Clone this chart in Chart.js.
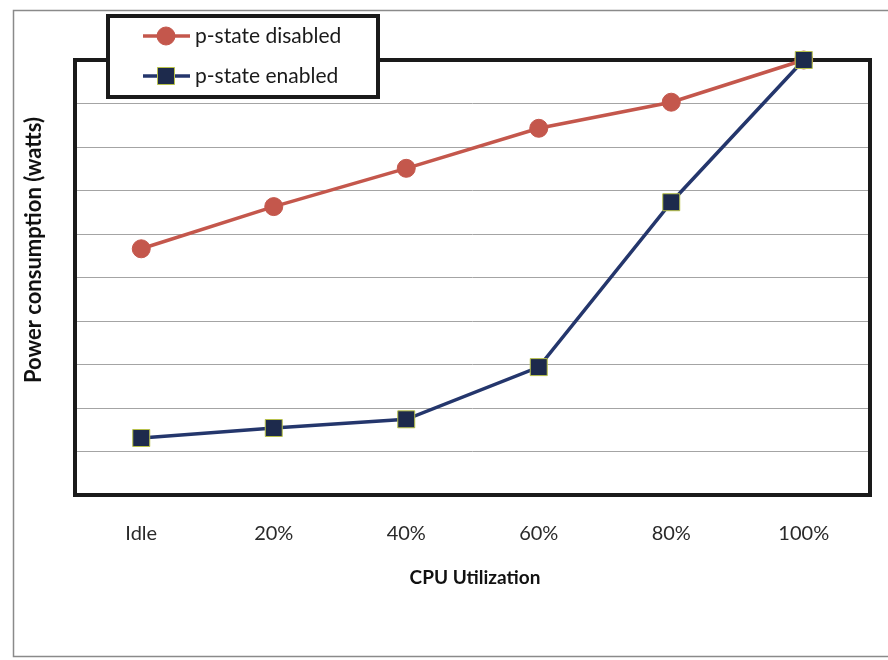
<!DOCTYPE html>
<html>
<head>
<meta charset="utf-8">
<title>Power consumption vs CPU utilization</title>
<script src="https://cdn.jsdelivr.net/npm/chart.js@4/dist/chart.umd.min.js"></script>
<style>
  html, body { margin: 0; padding: 0; background: #ffffff; }
  #wrap { width: 888px; height: 660px; }
</style>
</head>
<body>
<div id="wrap"><canvas id="c" width="888" height="660"></canvas></div>
<script>
// CPU utilization levels on the x axis
const categories = ['Idle', '20%', '40%', '60%', '80%', '100%'];
// Relative power draw (share of the peak, in percent of the axis span)
const pstateDisabled = [56.6, 66.3, 75.1, 84.3, 90.3, 100];
const pstateEnabled  = [13.1, 15.4, 17.4, 29.4, 67.3, 100];
const seriesNames = ['p-state disabled', 'p-state enabled'];
const xTitle = 'CPU Utilization';
const yTitle = 'Power consumption (watts)';

const FONT = 'Lato, "Open Sans", "Liberation Sans", sans-serif';
const RED = '#c4574c';
const BLUE_LINE = '#24366c';
const BLUE_FILL = '#1d2a4c';
const BLUE_EDGE = '#b9c24a';

// Thin outer frame plus the thick plot-area border
const framePlugin = {
  id: 'frames',
  beforeDraw(chart) {
    const ctx = chart.ctx;
    ctx.save();
    ctx.fillStyle = '#ffffff';
    ctx.fillRect(0, 0, chart.width, chart.height);
    ctx.strokeStyle = '#8a8a8a';
    ctx.lineWidth = 1.5;
    ctx.beginPath();
    ctx.moveTo(chart.width + 5, 10.5);
    ctx.lineTo(13.5, 10.5);
    ctx.lineTo(13.5, 656.5);
    ctx.lineTo(chart.width + 5, 656.5);
    ctx.stroke();
    ctx.restore();
  },
  beforeDatasetsDraw(chart) {
    const a = chart.chartArea;
    const ctx = chart.ctx;
    ctx.save();
    ctx.strokeStyle = '#1a1a1a';
    ctx.lineWidth = 4;
    ctx.strokeRect(a.left, a.top, a.right - a.left, a.bottom - a.top);
    ctx.restore();
  }
};

// Axis titles
const titlesPlugin = {
  id: 'axisTitles',
  afterDraw(chart) {
    const ctx = chart.ctx;
    ctx.save();
    ctx.fillStyle = '#111111';
    ctx.textAlign = 'center';
    ctx.textBaseline = 'middle';
    ctx.font = 'bold 19px ' + FONT;
    ctx.fillText(xTitle, 475, 578);
    ctx.translate(34, 250);
    ctx.rotate(-Math.PI / 2);
    ctx.font = 'bold 22px ' + FONT;
    ctx.fillText(yTitle, 0, 0);
    ctx.restore();
  }
};

// Boxed legend overlapping the top of the plot area
const legendPlugin = {
  id: 'boxLegend',
  afterDraw(chart) {
    const ctx = chart.ctx;
    const box = { x: 108, y: 16, w: 270, h: 81 };
    ctx.save();
    ctx.fillStyle = '#ffffff';
    ctx.fillRect(box.x, box.y, box.w, box.h);
    ctx.strokeStyle = '#1a1a1a';
    ctx.lineWidth = 4;
    ctx.strokeRect(box.x, box.y, box.w, box.h);
    const rows = [36, 76];
    chart.data.datasets.forEach((ds, i) => {
      const y = rows[i];
      ctx.strokeStyle = ds.borderColor;
      ctx.lineWidth = ds.borderWidth;
      ctx.beginPath();
      ctx.moveTo(143, y);
      ctx.lineTo(190, y);
      ctx.stroke();
      ctx.fillStyle = ds.pointBackgroundColor;
      ctx.strokeStyle = ds.pointBorderColor;
      ctx.lineWidth = ds.pointBorderWidth;
      ctx.beginPath();
      if (ds.pointStyle === 'rect') {
        const s = Math.SQRT1_2 * ds.pointRadius;
        ctx.rect(166 - s, y - s, 2 * s, 2 * s);
      } else {
        ctx.arc(166, y, ds.pointRadius, 0, Math.PI * 2);
      }
      ctx.fill();
      ctx.stroke();
      ctx.fillStyle = '#1a1a1a';
      ctx.font = '21px ' + FONT;
      ctx.textAlign = 'left';
      ctx.textBaseline = 'middle';
      ctx.fillText(ds.label, 195, y);
    });
    ctx.restore();
  }
};

new Chart(document.getElementById('c'), {
  type: 'line',
  data: {
    labels: categories,
    datasets: [
      {
        label: seriesNames[0],
        data: pstateDisabled,
        order: 1,
        clip: false,
        borderColor: RED,
        backgroundColor: RED,
        borderWidth: 3.5,
        pointStyle: 'circle',
        pointRadius: 9,
        pointBackgroundColor: RED,
        pointBorderColor: RED,
        pointBorderWidth: 1,
        tension: 0
      },
      {
        label: seriesNames[1],
        data: pstateEnabled,
        order: 0,
        clip: false,
        borderColor: BLUE_LINE,
        backgroundColor: BLUE_FILL,
        borderWidth: 3.5,
        pointStyle: 'rect',
        pointRadius: 12,
        pointBackgroundColor: BLUE_FILL,
        pointBorderColor: BLUE_EDGE,
        pointBorderWidth: 1,
        tension: 0
      }
    ]
  },
  options: {
    responsive: false,
    animation: false,
    devicePixelRatio: 1,
    layout: { padding: { left: 0, right: 18, top: 60, bottom: 0 } },
    plugins: {
      legend: { display: false },
      tooltip: { enabled: false }
    },
    scales: {
      x: {
        offset: true,
        grid: { display: false, drawTicks: false },
        border: { display: false },
        ticks: {
          color: '#2a2a2a',
          font: { family: FONT, size: 20 },
          padding: 27,
          maxRotation: 0
        },
        afterFit(scale) { scale.height = 165; }
      },
      y: {
        min: 0,
        max: 100,
        grid: { color: '#a4a4a4', lineWidth: 1, drawTicks: false },
        border: { display: false },
        ticks: { display: false, stepSize: 10 },
        afterFit(scale) { scale.width = 75; }
      }
    }
  },
  plugins: [framePlugin, titlesPlugin, legendPlugin]
});
</script>
</body>
</html>
